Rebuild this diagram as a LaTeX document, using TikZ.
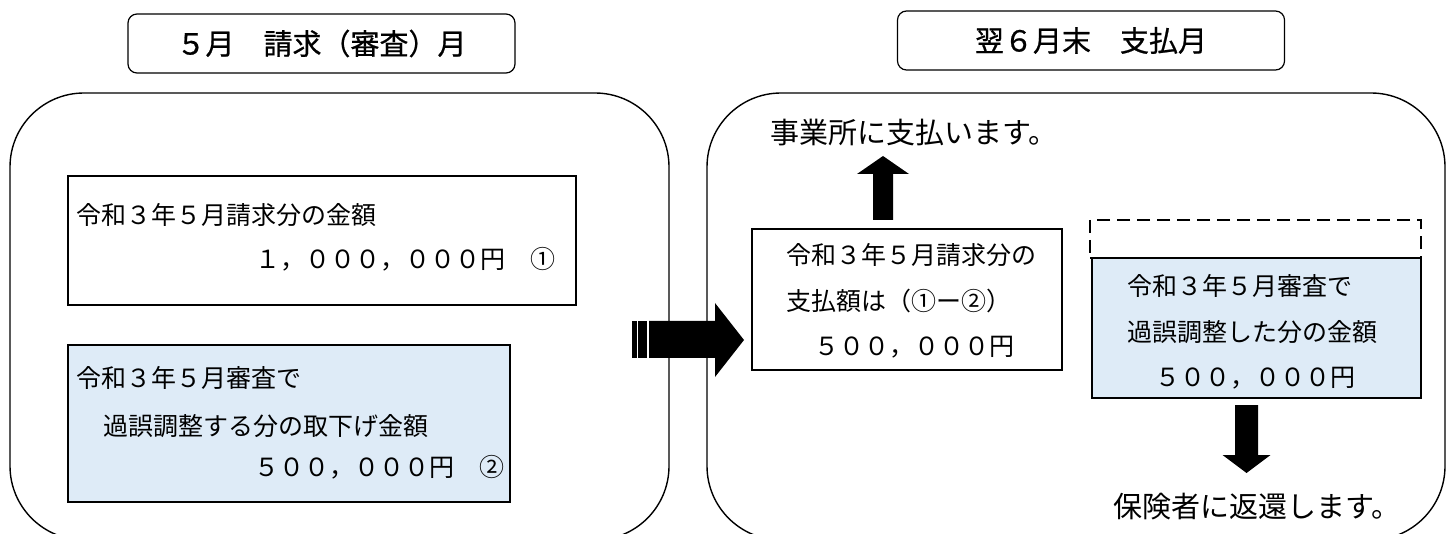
\documentclass[tikz,border=0pt]{standalone}
\usepackage{fontspec}
\setmainfont{Noto Sans CJK JP}
\newfontfamily\titlefont[FakeBold=0.7]{Noto Sans CJK JP}
\definecolor{boxblue}{HTML}{DEEBF7}
\tikzset{
  panel/.style={draw, line width=1.4pt, rounded corners=74pt, inner sep=0pt},
  titlebox/.style={draw, line width=1.2pt, rounded corners=9pt, inner sep=0pt,
    font=\titlefont\fontsize{29}{34}\selectfont},
  plainbox/.style={draw, line width=1.2pt, inner sep=0pt},
  bluebox/.style={plainbox, fill=boxblue},
  dashbox/.style={draw, line width=1.4pt, dash pattern=on 13pt off 7pt, inner sep=0pt},
  txt/.style={anchor=west, inner sep=0pt, font=\fontsize{25}{30}\selectfont},
  bigtxt/.style={anchor=west, inner sep=0pt, font=\fontsize{29}{34}\selectfont},
  blockarrow/.style={fill=black}
}
\begin{document}
\begin{tikzpicture}[x=1pt, y=-1pt]
\useasboundingbox (0,0) rectangle (1453,534);
\clip (0,0) rectangle (1453,534);
\fill[white] (0,0) rectangle (1453,534);

% titles
\node[titlebox, minimum width=387pt, minimum height=59pt] (tL) at (321.5,43.5) {５月　請求（審査）月};
\node[titlebox, minimum width=387pt, minimum height=59pt] (tR) at (1091,40.5) {翌６月末　支払月};

% panels
\node[panel, minimum width=659pt, minimum height=447pt] (pL) at (339.5,316.5) {};
\node[panel, minimum width=738pt, minimum height=447pt] (pR) at (1076,316.5) {};

% left boxes
\node[plainbox, minimum width=508pt, minimum height=129pt] (b1) at (322,240.5) {};
\node[txt] (b1a) at (76,215) {令和３年５月請求分の金額};
\node[txt] (b1b) at (255,259) {１，０００，０００円　①};

\node[bluebox, minimum width=442pt, minimum height=157pt] (b2) at (289,423.5) {};
\node[txt] (b2a) at (76,378) {令和３年５月審査で};
\node[txt] (b2b) at (103,426) {過誤調整する分の取下げ金額};
\node[txt] (b2c) at (254,467) {５００，０００円　②};

% striped arrow
\fill[blockarrow] (631.7,321) rectangle (636.7,358);
\fill[blockarrow] (638.3,321) rectangle (647.3,358);
\fill[blockarrow] (649,321) -- (715,321) -- (715,303) -- (744,340) -- (715,377)
  -- (715,358) -- (649,358) -- cycle;

% right side
\node[bigtxt] (pay) at (770,133) {事業所に支払います。};
\fill[blockarrow] (873,220) -- (873,174) -- (857,174) -- (883,156) -- (909,174)
  -- (893,174) -- (893,220) -- cycle;

\node[plainbox, minimum width=310pt, minimum height=141pt] (b3) at (907,299.5) {};
\node[txt] (b3a) at (786,255) {令和３年５月請求分の};
\node[txt] (b3b) at (786,301) {支払額は（①ー②）};
\node[txt] (b3c) at (814,347) {５００，０００円};

\node[dashbox, minimum width=331pt, minimum height=38pt] (d4) at (1255.5,239) {};
\node[bluebox, minimum width=329pt, minimum height=140pt] (b4) at (1256.5,328) {};
\node[txt] (b4a) at (1127,286) {令和３年５月審査で};
\node[txt] (b4b) at (1127,332) {過誤調整した分の金額};
\node[txt] (b4c) at (1155,378) {５００，０００円};

\fill[blockarrow] (1235,405) -- (1258,405) -- (1258,455) -- (1270.5,455) -- (1246.5,473)
  -- (1222.5,455) -- (1235,455) -- cycle;
\node[bigtxt] (ret) at (1113,507) {保険者に返還します。};
\end{tikzpicture}
\end{document}
